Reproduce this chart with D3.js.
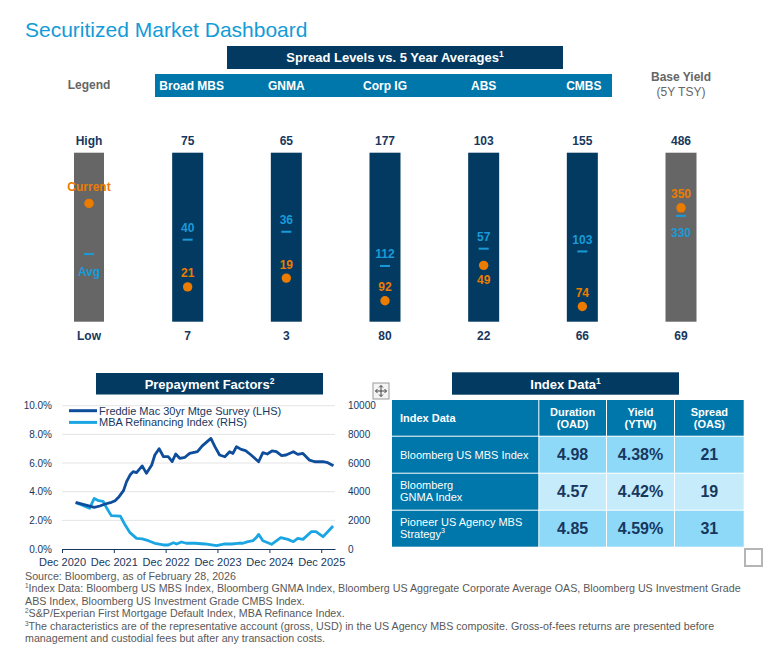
<!DOCTYPE html>
<html>
<head>
<meta charset="utf-8">
<script src="https://cdn.jsdelivr.net/npm/d3@7"></script>
<style>
  body { margin: 0; background: #fff; }
  svg { display: block; font-family: "Liberation Sans", Arial, sans-serif; }
</style>
</head>
<body>
<div id="chart"></div>
<script>
// ---- data ----
const sectors = ['Broad MBS', 'GNMA', 'Corp IG', 'ABS', 'CMBS'];
const columns = ['Legend', ...sectors, 'Base Yield'];
const spreadHigh = [75, 65, 177, 103, 155, 486];
const spreadLow = [7, 3, 80, 22, 66, 69];
const spreadAvg = [40, 36, 112, 57, 103, 330];
const spreadCurrent = [21, 19, 92, 49, 74, 350];

const mtgDates = ['2021-03-07','2021-05-25','2021-07-16','2021-08-25','2021-10-01','2021-11-07','2021-12-10',
  '2022-01-07','2022-02-07','2022-03-01','2022-03-25','2022-04-16','2022-05-10','2022-06-19','2022-07-19',
  '2022-08-25','2022-09-16','2022-10-16','2022-11-16','2022-12-19','2023-01-16','2023-02-10','2023-03-10',
  '2023-04-16','2023-05-19','2023-07-13','2023-08-16','2023-10-16','2023-11-13','2023-12-16','2024-01-22',
  '2024-02-25','2024-03-19','2024-04-13','2024-05-16','2024-06-16','2024-07-25','2024-09-16','2024-10-16',
  '2024-11-16','2024-12-19','2025-01-19','2025-02-25','2025-03-28','2025-05-19','2025-06-19','2025-07-25',
  '2025-09-10','2025-10-16','2025-12-13','2026-01-16','2026-02-25'];
const mtgRates = [3.26,3.05,2.90,3.00,3.14,3.23,3.37,
  3.65,4.07,4.70,5.16,5.40,5.33,5.80,5.28,
  5.86,6.56,7.00,6.44,6.44,6.10,6.63,6.33,
  6.40,6.67,6.80,7.20,7.72,7.14,6.56,6.44,
  6.79,6.67,7.14,6.95,6.86,6.56,6.09,6.72,
  6.63,6.84,6.79,6.51,6.56,6.79,6.60,6.67,
  6.20,6.09,6.09,6.02,5.81];

const refiDates = ['2021-03-07','2021-04-19','2021-06-13','2021-07-16','2021-08-16','2021-09-16','2021-10-13',
  '2021-11-13','2022-01-16','2022-02-19','2022-03-25','2022-05-10','2022-06-19','2022-08-01','2022-09-16',
  '2022-11-16','2022-12-19','2023-01-25','2023-02-16','2023-03-22','2023-04-25','2023-06-25','2023-09-04',
  '2023-11-25','2024-01-22','2024-03-07','2024-04-25','2024-05-28','2024-07-04','2024-08-07','2024-09-01',
  '2024-09-16','2024-10-16','2024-12-16','2025-02-19','2025-04-10','2025-05-19','2025-06-19','2025-07-25',
  '2025-09-22','2025-10-25','2025-12-13','2026-01-16','2026-02-22'];
const refiIndex = [3230,3070,2840,3530,3370,3330,2840,
  2330,2300,1670,1140,740,700,580,400,
  280,280,440,350,490,400,400,350,
  230,350,350,400,400,510,580,810,
  1020,580,330,790,670,510,740,670,
  1210,1210,860,1210,1600];

const rateTicks = [0, 2, 4, 6, 8, 10];
const refiTicks = [0, 2000, 4000, 6000, 8000, 10000];
const yearTicks = ['2020-12-01','2021-12-01','2022-12-01','2023-12-01','2024-12-01','2025-12-01'];

const tableHeaders = [['Index Data'], ['Duration', '(OAD)'], ['Yield', '(YTW)'], ['Spread', '(OAS)']];
const indexNames = [['Bloomberg US MBS Index'], ['Bloomberg', 'GNMA Index'], ['Pioneer US Agency MBS', 'Strategy']];
const indexSup = ['', '', '3'];
const duration = [4.98, 4.57, 4.85];
const yieldYTW = [4.38, 4.42, 4.59];
const spreadOAS = [21, 19, 31];

const footnotes = [
  ['', 'Source: Bloomberg, as of February 28, 2026'],
  ['1', 'Index Data: Bloomberg US MBS Index, Bloomberg GNMA Index, Bloomberg US Aggregate Corporate Average OAS, Bloomberg US Investment Grade'],
  ['', 'ABS Index, Bloomberg US Investment Grade CMBS Index.'],
  ['2', 'S&P/Experian First Mortgage Default Index, MBA Refinance Index.'],
  ['3', 'The characteristics are of the representative account (gross, USD) in the US Agency MBS composite. Gross-of-fees returns are presented before'],
  ['', 'management and custodial fees but after any transaction costs.']
];

// ---- colours ----
const navy = '#023a62';
const midBlue = '#0077aa';
const lightBlue = '#1a9bd7';
const orange = '#ec7c00';
const textNavy = '#17375e';
const grey = '#666666';

const width = 772, height = 646;

const svg = d3.select('#chart').append('svg')
  .attr('width', width)
  .attr('height', height);

// text with optional superscript
function supText(g, x, y, main, sup, opts) {
  const t = g.append('text')
    .attr('x', x).attr('y', y)
    .attr('text-anchor', opts.anchor || 'start')
    .attr('font-size', opts.size)
    .attr('font-weight', opts.weight || 'normal')
    .attr('fill', opts.fill);
  if (opts.family) t.attr('font-family', opts.family);
  if (opts.supFirst && sup) {
    t.append('tspan').attr('font-size', opts.size * 0.6).attr('dy', -4).text(sup);
    t.append('tspan').attr('dy', 4).text(main);
  } else {
    t.append('tspan').text(main);
    if (sup) t.append('tspan').attr('font-size', opts.size * 0.65).attr('dy', -5).text(sup);
  }
  return t;
}

// ---- title ----
svg.append('text')
  .attr('x', 25).attr('y', 37)
  .attr('font-size', 21)
  .attr('fill', '#139bd8')
  .text('Securitized Market Dashboard');

// ---- spread header ----
svg.append('rect')
  .attr('x', 227).attr('y', 46).attr('width', 336).attr('height', 23)
  .attr('fill', navy);
supText(svg, 395, 62, 'Spread Levels vs. 5 Year Averages', '1',
  {anchor: 'middle', size: 13, weight: 'bold', fill: '#fff'});

const colX = d3.scalePoint().domain(columns).range([89, 681]);
const barW = 31, barTop = 152.7, barBot = 321.7;

svg.append('rect')
  .attr('x', 155).attr('y', 74).attr('width', 457).attr('height', 23)
  .attr('fill', midBlue);

svg.selectAll('.cat')
  .data(sectors)
  .enter()
  .append('text')
  .attr('class', 'cat')
  .attr('x', d => d === 'Broad MBS' ? colX(d) + 4 : (d === 'CMBS' ? colX(d) + 1.5 : colX(d)))
  .attr('y', 90)
  .attr('text-anchor', 'middle')
  .attr('font-size', 12)
  .attr('font-weight', 'bold')
  .attr('fill', '#fff')
  .text(d => d);

svg.append('text')
  .attr('x', colX('Legend')).attr('y', 89)
  .attr('text-anchor', 'middle').attr('font-size', 12).attr('font-weight', 'bold')
  .attr('fill', grey).text('Legend');
svg.append('text')
  .attr('x', colX('Base Yield')).attr('y', 81)
  .attr('text-anchor', 'middle').attr('font-size', 12).attr('font-weight', 'bold')
  .attr('fill', grey).text('Base Yield');
svg.append('text')
  .attr('x', colX('Base Yield')).attr('y', 95.5)
  .attr('text-anchor', 'middle').attr('font-size', 12)
  .attr('fill', grey).text('(5Y TSY)');

// ---- range bars ----
const rows = columns.slice(1).map((c, i) => ({
  name: c,
  high: spreadHigh[i], low: spreadLow[i], avg: spreadAvg[i], cur: spreadCurrent[i],
  scale: d3.scaleLinear().domain([spreadLow[i], spreadHigh[i]]).range([barBot, barTop])
}));

// legend column bar
const legendScale = d3.scaleLinear().domain([0, 1]).range([barBot, barTop]);
svg.append('rect')
  .attr('x', colX('Legend') - 15).attr('y', barTop)
  .attr('width', 30).attr('height', barBot - barTop)
  .attr('fill', grey);

svg.selectAll('.bar')
  .data(rows)
  .enter()
  .append('rect')
  .attr('class', 'bar')
  .attr('x', d => colX(d.name) - barW / 2)
  .attr('y', d => d.scale(d.high))
  .attr('width', barW)
  .attr('height', d => d.scale(d.low) - d.scale(d.high))
  .attr('fill', d => d.name === 'Base Yield' ? grey : navy);

// high / low labels
const hiLo = [{name: 'Legend', high: 'High', low: 'Low'}]
  .concat(rows.map(d => ({name: d.name, high: d.high, low: d.low})));
svg.selectAll('.hi')
  .data(hiLo)
  .enter()
  .append('text')
  .attr('x', d => colX(d.name)).attr('y', 145)
  .attr('text-anchor', 'middle').attr('font-size', 12).attr('font-weight', 'bold')
  .attr('fill', textNavy)
  .text(d => d.high);
svg.selectAll('.lo')
  .data(hiLo)
  .enter()
  .append('text')
  .attr('x', d => colX(d.name)).attr('y', 340)
  .attr('text-anchor', 'middle').attr('font-size', 12).attr('font-weight', 'bold')
  .attr('fill', textNavy)
  .text(d => d.low);

// avg dashes and current dots
const avgBelow = ['Base Yield'];
const curBelow = ['ABS'];

svg.selectAll('.avg')
  .data(rows)
  .enter()
  .append('rect')
  .attr('x', d => colX(d.name) - 5)
  .attr('y', d => d.scale(d.avg) - 1)
  .attr('width', 10).attr('height', 2)
  .attr('fill', lightBlue);
svg.selectAll('.avgLbl')
  .data(rows)
  .enter()
  .append('text')
  .attr('x', d => colX(d.name))
  .attr('y', d => avgBelow.includes(d.name) ? d.scale(d.avg) + 21 : d.scale(d.avg) - 7.5)
  .attr('text-anchor', 'middle').attr('font-size', 12).attr('font-weight', 'bold')
  .attr('fill', lightBlue)
  .text(d => d.avg);

svg.selectAll('.cur')
  .data(rows)
  .enter()
  .append('circle')
  .attr('cx', d => colX(d.name))
  .attr('cy', d => d.scale(d.cur))
  .attr('r', 4.7)
  .attr('fill', orange);
svg.selectAll('.curLbl')
  .data(rows)
  .enter()
  .append('text')
  .attr('x', d => colX(d.name))
  .attr('y', d => curBelow.includes(d.name) ? d.scale(d.cur) + 18.5 : d.scale(d.cur) - 9.5)
  .attr('text-anchor', 'middle').attr('font-size', 12).attr('font-weight', 'bold')
  .attr('fill', orange)
  .text(d => d.cur);

// legend marks
svg.append('circle')
  .attr('cx', colX('Legend')).attr('cy', legendScale(0.7)).attr('r', 4.7).attr('fill', orange);
svg.append('text')
  .attr('x', colX('Legend')).attr('y', legendScale(0.7) - 12.5)
  .attr('text-anchor', 'middle').attr('font-size', 12).attr('font-weight', 'bold')
  .attr('fill', orange).text('Current');
svg.append('rect')
  .attr('x', colX('Legend') - 5).attr('y', legendScale(0.4) - 1)
  .attr('width', 10).attr('height', 2).attr('fill', lightBlue);
svg.append('text')
  .attr('x', colX('Legend')).attr('y', legendScale(0.4) + 21.5)
  .attr('text-anchor', 'middle').attr('font-size', 12).attr('font-weight', 'bold')
  .attr('fill', lightBlue).text('Avg');

// ---- prepayment chart ----
svg.append('rect')
  .attr('x', 96).attr('y', 373).attr('width', 227).attr('height', 21.5)
  .attr('fill', navy);
supText(svg, 209.5, 388.5, 'Prepayment Factors', '2',
  {anchor: 'middle', size: 13, weight: 'bold', fill: '#fff'});

const parse = d3.timeParse('%Y-%m-%d');
const mtg = mtgDates.map((d, i) => ({date: parse(d), value: mtgRates[i]}));
const refi = refiDates.map((d, i) => ({date: parse(d), value: refiIndex[i]}));

const xScale = d3.scaleTime()
  .domain([parse('2020-12-01'), parse('2026-03-08')])
  .range([62, 335]);
const yRate = d3.scaleLinear().domain([0, 10]).range([549, 405.7]);
const yRefi = d3.scaleLinear().domain([0, 10000]).range([549, 405.7]);

svg.append('g')
  .selectAll('line')
  .data(rateTicks.slice(1))
  .enter()
  .append('line')
  .attr('x1', 62).attr('x2', 335)
  .attr('y1', d => yRate(d)).attr('y2', d => yRate(d))
  .attr('stroke', '#e4e4e4').attr('stroke-width', 1);

const axisFont = g => g.selectAll('text')
  .attr('font-family', '"Liberation Sans", Arial, sans-serif')
  .attr('fill', textNavy);

svg.append('g')
  .attr('transform', 'translate(62,0)')
  .call(d3.axisLeft(yRate).tickValues(rateTicks).tickSize(0).tickPadding(10)
    .tickFormat(d => d.toFixed(1) + '%'))
  .call(g => g.select('.domain').remove())
  .call(g => g.selectAll('text').attr('font-size', 10))
  .call(axisFont);

svg.append('g')
  .attr('transform', 'translate(335,0)')
  .call(d3.axisRight(yRefi).tickValues(refiTicks).tickSize(0).tickPadding(13)
    .tickFormat(d3.format('d')))
  .call(g => g.select('.domain').remove())
  .call(g => g.selectAll('text').attr('font-size', 10))
  .call(axisFont);

svg.append('g')
  .attr('transform', 'translate(0,549)')
  .call(d3.axisBottom(xScale).tickValues(yearTicks.map(parse)).tickSizeInner(4).tickSizeOuter(0)
    .tickPadding(5).tickFormat(d3.timeFormat('%b %Y')))
  .call(g => g.select('.domain').attr('stroke', textNavy))
  .call(g => g.selectAll('.tick line').attr('stroke', textNavy))
  .call(g => g.selectAll('text').attr('font-size', 11))
  .call(axisFont);

const rateLine = d3.line().x(d => xScale(d.date)).y(d => yRate(d.value));
const refiLine = d3.line().x(d => xScale(d.date)).y(d => yRefi(d.value));

svg.append('path')
  .datum(refi)
  .attr('d', refiLine)
  .attr('fill', 'none')
  .attr('stroke', '#1ba6e3')
  .attr('stroke-width', 2.8)
  .attr('stroke-linejoin', 'round');

svg.append('path')
  .datum(mtg)
  .attr('d', rateLine)
  .attr('fill', 'none')
  .attr('stroke', '#0d4d9b')
  .attr('stroke-width', 2.8)
  .attr('stroke-linejoin', 'round');

const lineLegend = [
  {label: 'Freddie Mac 30yr Mtge Survey (LHS)', color: '#0d4d9b'},
  {label: 'MBA Refinancing Index (RHS)', color: '#1ba6e3'}
];
const lg = svg.append('g');
lg.selectAll('line')
  .data(lineLegend)
  .enter()
  .append('line')
  .attr('x1', 69).attr('x2', 97)
  .attr('y1', (d, i) => 410.7 + i * 11.7).attr('y2', (d, i) => 410.7 + i * 11.7)
  .attr('stroke', d => d.color).attr('stroke-width', 3);
lg.selectAll('text')
  .data(lineLegend)
  .enter()
  .append('text')
  .attr('x', 99).attr('y', (d, i) => 414.5 + i * 11.7)
  .attr('font-size', 11)
  .attr('fill', textNavy)
  .text(d => d.label);

// ---- index data table ----
svg.append('rect')
  .attr('x', 452).attr('y', 372.3).attr('width', 227).attr('height', 22.4)
  .attr('fill', navy);
supText(svg, 565.5, 388.5, 'Index Data', '1',
  {anchor: 'middle', size: 13, weight: 'bold', fill: '#fff'});

const colLeft = [392, 539.3, 607, 675];
const colRight = [538.3, 606, 674, 743.7];
const rowTop = [400, 436.7, 473.7, 510.7];
const rowH = [35.7, 36, 36, 36];
const cellFill = ['#8ed9f8', '#c6ebfb', '#8ed9f8'];

const cells = [];
for (let r = 0; r < 4; r++) {
  for (let c = 0; c < 4; c++) {
    cells.push({r, c});
  }
}
svg.selectAll('.cell')
  .data(cells)
  .enter()
  .append('rect')
  .attr('x', d => colLeft[d.c])
  .attr('y', d => rowTop[d.r])
  .attr('width', d => colRight[d.c] - colLeft[d.c])
  .attr('height', d => rowH[d.r])
  .attr('fill', d => (d.r === 0 || d.c === 0) ? midBlue : cellFill[d.r - 1]);

// header
tableHeaders.forEach((lines, c) => {
  const mid = rowTop[0] + rowH[0] / 2;
  const x = c === 0 ? 400 : (colLeft[c] + colRight[c]) / 2;
  lines.forEach((l, j) => {
    svg.append('text')
      .attr('x', x)
      .attr('y', lines.length === 1 ? mid + 4 : mid - 2.3 + j * 12.6)
      .attr('text-anchor', c === 0 ? 'start' : 'middle')
      .attr('font-size', 11).attr('font-weight', 'bold')
      .attr('fill', '#fff')
      .text(l);
  });
});

// row labels and values
indexNames.forEach((lines, r) => {
  const mid = rowTop[r + 1] + rowH[r + 1] / 2;
  lines.forEach((l, j) => {
    const isLast = j === lines.length - 1;
    supText(svg, 400, lines.length === 1 ? mid + 4 : mid - 2.3 + j * 11.7,
      l, isLast ? indexSup[r] : '',
      {size: 11, fill: '#fff'});
  });
  const vals = [duration[r].toFixed(2), yieldYTW[r].toFixed(2) + '%', String(spreadOAS[r])];
  vals.forEach((v, k) => {
    svg.append('text')
      .attr('x', (colLeft[k + 1] + colRight[k + 1]) / 2)
      .attr('y', mid + 5.5)
      .attr('text-anchor', 'middle')
      .attr('font-family', '"Liberation Sans Narrow", "Arial Narrow", sans-serif')
      .attr('font-size', 16).attr('font-weight', 'bold')
      .attr('fill', textNavy)
      .text(v);
  });
});

// widget handles seen in the slide
const mv = svg.append('g').attr('transform', 'translate(373,383)');
mv.append('rect').attr('width', 16).attr('height', 16).attr('fill', '#f4f4f4')
  .attr('stroke', '#9a9a9a').attr('stroke-width', 1);
mv.append('path')
  .attr('d', 'M8,2.5V13.5M2.5,8H13.5M8,2.5l-2,2M8,2.5l2,2M8,13.5l-2,-2M8,13.5l2,-2M2.5,8l2,-2M2.5,8l2,2M13.5,8l-2,-2M13.5,8l-2,2')
  .attr('stroke', '#444').attr('stroke-width', 1).attr('fill', 'none');
svg.append('rect')
  .attr('x', 745).attr('y', 549).attr('width', 17).attr('height', 17)
  .attr('fill', '#fff').attr('stroke', '#b5b5b5').attr('stroke-width', 2);

// ---- footnotes ----
footnotes.forEach((f, i) => {
  supText(svg, 25, 579.5 + i * 12.5, f[1], f[0],
    {size: 10.7, fill: '#595959', supFirst: true,
     family: '"Liberation Sans Narrow", "Arial Narrow", sans-serif'});
});
</script>
</body>
</html>
